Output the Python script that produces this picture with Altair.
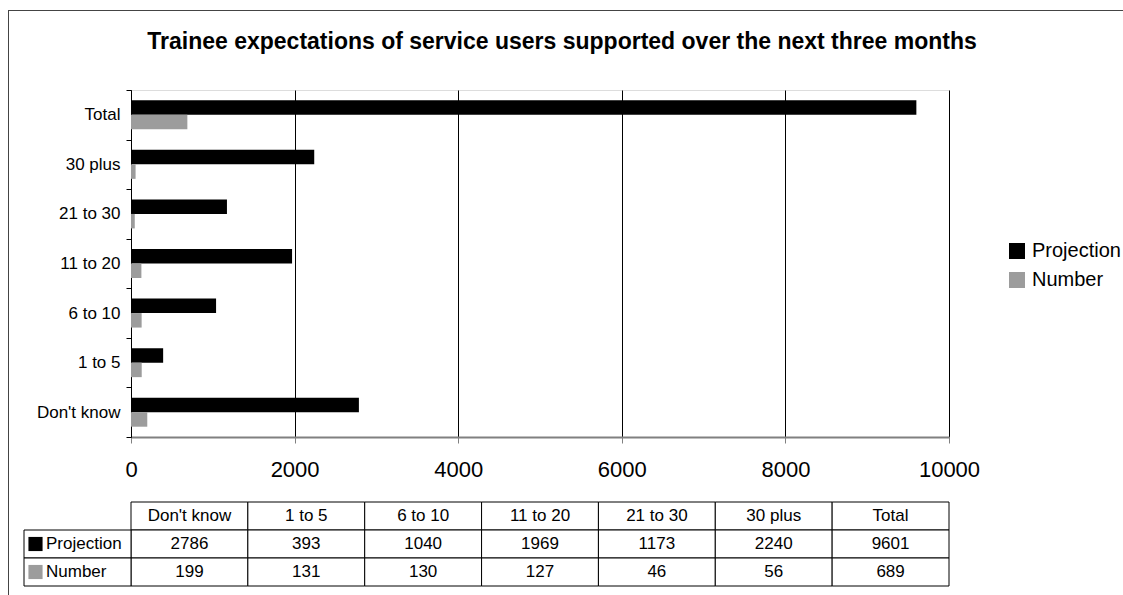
import altair as alt
import pandas as pd

# ---- data ----
categories = ["Don't know", "1 to 5", "6 to 10", "11 to 20", "21 to 30", "30 plus", "Total"]
series = ["Projection", "Number"]
projection = [2786, 393, 1040, 1969, 1173, 2240, 9601]
number = [199, 131, 130, 127, 46, 56, 689]
x_ticks = [0, 2000, 4000, 6000, 8000, 10000]
title_text = "Trainee expectations of service users supported over the next three months"

# ---- styling / layout ----
FONT = "Liberation Sans"
colors = ["#000000", "#9c9c9c"]
W, H = 818, 347
COLW = W / len(categories)
LABEL_LEFT = -107 / COLW      # left edge of the row-label column (in column units)
SWATCH_X = -95.5 / COLW
LABEL_X = -85 / COLW

series_values = {"Projection": projection, "Number": number}

bar_rows = []
for s in series:
    for c, v in zip(categories, series_values[s]):
        bar_rows.append({"cat": c, "series": s, "value": v})
bars_df = pd.DataFrame(bar_rows)

cell_rows = []
for i, c in enumerate(categories):
    cell_rows.append({"x0": i, "x1": i + 1, "r0": 0, "r1": 1, "text": c})
    for j, s in enumerate(series):
        cell_rows.append({"x0": i, "x1": i + 1, "r0": j + 1, "r1": j + 2,
                          "text": str(series_values[s][i])})
cells_df = pd.DataFrame(cell_rows)
cells_df["xc"] = (cells_df["x0"] + cells_df["x1"]) / 2
cells_df["rc"] = (cells_df["r0"] + cells_df["r1"]) / 2

label_df = pd.DataFrame({
    "series": series,
    "x0": [LABEL_LEFT] * 2, "x1": [0] * 2,
    "r0": [1, 2], "r1": [2, 3],
    "rc": [1.5, 2.5],
    "sx": [SWATCH_X] * 2, "lx": [LABEL_X] * 2,
})

tx = alt.Scale(domain=[0, len(categories)], nice=False, zero=False)
ty = alt.Scale(domain=[0, 3], range=[412, 496], nice=False, zero=False)

bars = alt.Chart(bars_df).mark_bar().encode(
    x=alt.X("value:Q", scale=alt.Scale(domain=[0, 10000], nice=False),
            axis=alt.Axis(values=x_ticks, title=None, grid=True, gridColor="#000000",
                          gridWidth=1, domainColor="#808080", domainWidth=2,
                          tickColor="#808080", tickSize=6, labelFontSize=22,
                          labelPadding=16, labelColor="#000000", labelFont=FONT,
                          labelFlush=False, format="d")),
    y=alt.Y("cat:N", sort=list(reversed(categories)),
            scale=alt.Scale(paddingInner=0, paddingOuter=0),
            axis=alt.Axis(title=None, tickBand="extent", tickSize=5, tickColor="#000000",
                          tickWidth=1, domainColor="#000000", labelFontSize=17,
                          labelPadding=6, labelColor="#000000", labelFont=FONT,
                          grid=False)),
    yOffset=alt.YOffset("series:N", sort=series,
                        scale=alt.Scale(paddingInner=0, paddingOuter=0.71)),
    color=alt.Color("series:N", sort=series,
                    scale=alt.Scale(domain=series, range=colors),
                    legend=alt.Legend(title=None, orient="none", legendX=876, legendY=151,
                                      symbolType="square", symbolSize=256,
                                      symbolStrokeWidth=0, labelFontSize=20,
                                      labelFont=FONT, labelColor="#000000",
                                      labelOffset=5, rowPadding=9, padding=0)),
)

cells = alt.Chart(cells_df).mark_rect(fill="white", stroke="#000000", strokeWidth=1).encode(
    x=alt.X("x0:Q", scale=tx, axis=None), x2="x1:Q",
    y=alt.Y("r0:Q", scale=ty, axis=None), y2="r1:Q",
)
cell_text = alt.Chart(cells_df).mark_text(fontSize=17, font=FONT, color="#000000",
                                          align="center", baseline="middle").encode(
    x=alt.X("xc:Q", scale=tx, axis=None),
    y=alt.Y("rc:Q", scale=ty, axis=None),
    text="text:N",
)
label_cells = alt.Chart(label_df).mark_rect(fill="white", stroke="#000000", strokeWidth=1).encode(
    x=alt.X("x0:Q", scale=tx, axis=None), x2="x1:Q",
    y=alt.Y("r0:Q", scale=ty, axis=None), y2="r1:Q",
)
label_text = alt.Chart(label_df).mark_text(fontSize=17, font=FONT, color="#000000",
                                           align="left", baseline="middle").encode(
    x=alt.X("lx:Q", scale=tx, axis=None),
    y=alt.Y("rc:Q", scale=ty, axis=None),
    text="series:N",
)
swatches = alt.Chart(label_df).mark_point(shape="square", filled=True, size=200,
                                          opacity=1, strokeWidth=0).encode(
    x=alt.X("sx:Q", scale=tx, axis=None),
    y=alt.Y("rc:Q", scale=ty, axis=None),
    fill=alt.Fill("series:N", scale=alt.Scale(domain=series, range=colors), legend=None),
)

frame_df = pd.DataFrame({"k": [0]})
frame_top = alt.Chart(frame_df).mark_rule(color="#444444", strokeWidth=1).encode(
    x=alt.value(-123), x2=alt.value(1000), y=alt.value(-79.5))
frame_left = alt.Chart(frame_df).mark_rule(color="#444444", strokeWidth=1).encode(
    x=alt.value(-122.5), y=alt.value(-80), y2=alt.value(510))

title_df = pd.DataFrame({"t": [title_text]})
title = alt.Chart(title_df).mark_text(fontSize=23, font=FONT, fontWeight="bold",
                                      color="#000000", align="center",
                                      baseline="alphabetic").encode(
    x=alt.value(431), y=alt.value(-41), text="t:N")

chart = alt.layer(
    frame_top, frame_left, title, bars, cells, cell_text, label_cells, label_text, swatches
).resolve_scale(x="independent", y="independent").properties(
    width=W, height=H,
    autosize=alt.AutoSizeParams(type="none"),
    padding={"left": 131, "top": 90, "right": 174, "bottom": 158},
).configure_view(stroke=None).configure(background="white")

chart.save("out.html", embed_options={"renderer": "svg", "actions": False})
